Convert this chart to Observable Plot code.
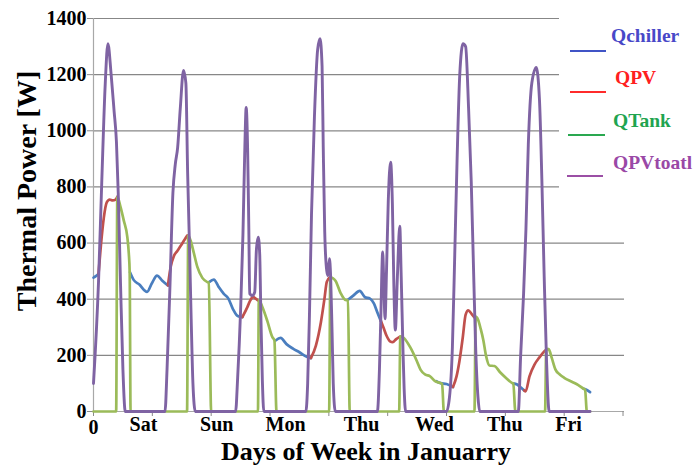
<!DOCTYPE html>
<html><head><meta charset="utf-8">
<script src="https://cdn.jsdelivr.net/npm/d3@7"></script>
<script src="https://cdn.jsdelivr.net/npm/@observablehq/plot@0.6"></script>
<style>
body{margin:0;background:#fff;}
#wrap{position:relative;width:695px;height:467px;overflow:hidden;}
#wrap svg text{font-weight:bold;}
#legend{position:absolute;left:559px;top:0;}
</style></head><body><div id="wrap"></div>
<script>
// ---- data (hour of week, thermal power W) ----
const seriesNames = ["Qchiller", "QPV", "QTank", "QPVtoatl"];
const lineColors = ["#4a7ebf", "#c0504d", "#9bbb59", "#7f63a3"];
const legendLineColors = ["#4054c6", "#ff2b2b", "#2aa850", "#9b4fa5"];
const legendTextColors = ["#4848c8", "#ff2020", "#1fa450", "#9a48a6"];

const yTicks = [0, 200, 400, 600, 800, 1000, 1200, 1400];
const xTicks = [0, 20, 40, 60, 80, 100, 120, 140, 160, 180];
const dayNames = ["Sat", "Sun", "Mon", "Thu", "Wed", "Thu", "Fri"];
const dayPos = [17.0, 41.9, 65.3, 91.1, 115.9, 139.8, 161.5];

const qChiller = [
  [[0,477],[0.8,482],[1.7,490]],
  [[12.4,496],[13.7,468],[15.5,453],[18.2,426],[19.9,458],[21.6,484],[23.3,467],[25.3,449]],
  [[39.3,461],[40.9,470],[42.6,443],[44.3,419],[45.8,403],[47.4,365],[49,340],[50.6,336]],
  [[61.9,253],[63.6,262],[65.6,240],[67.8,224],[70,211],[72.5,195],[73.9,190]],
  [[86.5,398],[88.3,413],[90.5,430],[92.3,407],[94,402],[95.3,385],[96.6,350],[97.7,322]],
  [[116.5,108],[118,101],[120,98],[122.2,87]],
  [[142.6,100],[144,96],[145.3,85],[146.4,75]],
  [[166.6,81],[167.2,79],[168.8,69]]
];
const qPV = [
  [[1.7,490],[2.5,590],[3.5,690],[4.5,745],[5.5,755],[6.5,752],[7.5,755],[8.1,765]],
  [[25.3,449],[26.3,518],[27.3,553],[28.5,572],[29.7,591],[31,613],[31.9,627]],
  [[50.6,336],[52.3,372],[53.3,396],[54.2,408],[55,403],[55.9,396]],
  [[73.9,190],[75.6,235],[77.3,318],[78.5,401],[79.3,462],[80.3,478]],
  [[97.7,322],[98.6,298],[99.7,268],[100.8,250],[101.7,247],[102.9,258],[104.2,267]],
  [[122.2,87],[123.4,125],[124.4,180],[125.5,262],[126.5,345],[127.4,360],[128.5,348],[129.5,335]],
  [[146.4,75],[146.9,72],[148.2,125],[149.9,167],[151.6,193],[153.3,215],[154,222]]
];
const qTank = [
  [0,0],[7.7,0],[8.1,765],[9.2,728],[10.3,680],[11.5,621],[12,563],[12.3,496],[12.6,0],
  [31.8,0],[32.2,627],[33,609],[34.1,565],[35.3,515],[37,476],[38.7,461],[39.2,459],[40,0],
  [55.9,0],[56.2,398],[57.4,372],[59.1,322],[60.8,265],[61.5,254],[62.2,0],
  [80.1,0],[80.5,478],[81.3,475],[82.3,465],[84,422],[85.5,398],[86.5,395],[87.1,0],
  [103.9,0],[104.3,268],[105.5,262],[107.6,230],[109.9,180],[111.2,148],[112.8,131],[114.3,126],[116.1,108],[118,101],[118.5,98],[119.1,0],
  [129.5,0],[129.9,338],[130.7,328],[131.6,295],[132.5,255],[133.4,200],[134.6,164],[136.3,162],[138.2,140],[140.5,117],[142.2,102],[142.7,100],[143.4,0],
  [153.5,0],[153.9,223],[154.7,222],[155.8,190],[157,150],[158.5,132],[160,120],[162.6,106],[164.8,94],[166.6,81],[167.1,78],[167.7,0],[168.8,0]
];
const qPVtotal = [
  [0,100],[1.7,460],[2.8,815],[4,1170],[4.9,1310],[6,1200],[7,1070],[7.8,960],[8.4,780],[9.2,450],[10,150],[10.8,0],
  [24.3,0],[25,150],[26,450],[27,780],[27.8,880],[28.6,940],[29.5,1080],[30.6,1215],[31.4,1170],[32,850],[32.6,600],[33.2,330],[33.8,100],[34.6,0],
  [48.3,0],[49,120],[50,360],[50.8,630],[51.4,920],[51.9,1083],[52.4,930],[52.8,650],[53.1,420],[54,413],[54.8,425],[55.4,580],[56,621],[56.5,560],[56.9,340],[57.4,110],[57.9,0],
  [72.2,0],[72.8,100],[73.4,340],[74.1,700],[75.1,1050],[76.2,1290],[77,1328],[77.7,1230],[78.1,940],[78.6,640],[79.3,500],[79.7,484],[80.2,544],[80.6,484],[81.1,280],[81.5,100],[82.2,0],
  [96.5,0],[97.2,150],[97.7,350],[98.3,568],[98.7,450],[99.1,330],[99.6,500],[100.2,750],[101,888],[101.6,740],[102.1,450],[102.6,290],[103.3,480],[104.1,660],[104.6,480],[105.2,220],[105.6,80],[106.1,0],
  [120,0],[121,50],[122,230],[122.8,560],[123.6,900],[124.5,1200],[125.6,1310],[126.5,1300],[127.5,1080],[128.4,820],[129.3,460],[129.9,230],[130.7,50],[131.3,0],
  [144.4,0],[145.2,200],[146.2,420],[147,650],[147.8,950],[149,1170],[150.5,1226],[151.6,1110],[152.4,830],[153.2,480],[154,180],[154.9,0],[168.8,0]
];

// ---- build tables ----
const toRows = (segments, name) => segments.flatMap((seg, i) => seg.map(([h, v]) => ({series: name, seg: name + i, h, v})));
const blueRows = toRows(qChiller, seriesNames[0]);
const redRows = toRows(qPV, seriesNames[1]);
const greenRows = toRows([qTank], seriesNames[2]);
const purpleRows = toRows([qPVtotal], seriesNames[3]);
const dayName = new Map(dayPos.map((p, i) => [p, dayNames[i]]));

const font = '"Liberation Serif","Times New Roman",serif';
const lineOpts = (i, w) => ({x: "h", y: "v", z: "seg", stroke: lineColors[i], strokeWidth: w, curve: "monotone-x", strokeLinejoin: "round"});

const chart = Plot.plot({
  width: 695, height: 467,
  marginLeft: 93, marginRight: 71, marginTop: 18, marginBottom: 56,
  x: {domain: [0, 180.5]},
  y: {domain: [0, 1400]},
  style: {fontFamily: font, background: "white", color: "black"},
  marks: [
    Plot.gridY(yTicks, {stroke: "#878787", strokeOpacity: 1, strokeWidth: 1.2}),
    Plot.ruleX([0], {stroke: "#a8a8a8", strokeWidth: 1.2}),
    Plot.ruleY([0], {stroke: "#a8a8a8", strokeWidth: 1.2}),
    Plot.axisY({ticks: yTicks, tickSize: 6, tickPadding: 1, tickFormat: d => String(d), fontSize: 20, fontWeight: "bold", stroke: "#8a8a8a", fill: "black", label: null}),
    Plot.axisX({ticks: xTicks, tickSize: 5, tickPadding: 3, tickFormat: d => d === 0 ? "0" : "", fontSize: 20, fontWeight: "bold", stroke: "#8a8a8a", fill: "black", label: null}),
    Plot.axisX({ticks: dayPos, tickSize: 0, tickPadding: 5, tickFormat: d => dayName.get(d), fontSize: 20, fontWeight: "bold", fill: "black", label: null}),
    Plot.line(blueRows, lineOpts(0, 2.7)),
    Plot.line(redRows, lineOpts(1, 2.7)),
    Plot.line(greenRows, lineOpts(2, 2.7)),
    Plot.line(purpleRows, lineOpts(3, 2.9)),
    Plot.text(["Days of Week in Januarry"], {text: d => d, frameAnchor: "bottom", dx: 7, dy: 48, fontSize: 26, fontWeight: "bold", fill: "black"}),
    Plot.text(["Thermal Power [W]"], {text: d => d, frameAnchor: "left", textAnchor: "middle", rotate: -90, dx: -66, dy: -24, fontSize: 28, fontWeight: "bold", fill: "black"})
  ]
});
const wrap = document.getElementById("wrap");
wrap.appendChild(chart);

// ---- legend (right, over a white box) ----
const ns = "http://www.w3.org/2000/svg";
const leg = document.createElementNS(ns, "svg");
leg.setAttribute("id", "legend");
leg.setAttribute("width", 136);
leg.setAttribute("height", 200);
const bg = document.createElementNS(ns, "rect");
bg.setAttribute("width", 136); bg.setAttribute("height", 200); bg.setAttribute("fill", "white");
leg.appendChild(bg);
const lineY = [51, 92, 135, 176];
const textY = [42, 84, 127, 169];
const textX = [52, 56, 54, 54];
const lineX = [[11, 47], [11, 47], [9, 46], [8, 44]];
seriesNames.forEach((name, i) => {
  const l = document.createElementNS(ns, "line");
  l.setAttribute("x1", lineX[i][0]); l.setAttribute("x2", lineX[i][1]);
  l.setAttribute("y1", lineY[i]); l.setAttribute("y2", lineY[i]);
  l.setAttribute("stroke", legendLineColors[i]); l.setAttribute("stroke-width", 2.2);
  leg.appendChild(l);
  const t = document.createElementNS(ns, "text");
  t.setAttribute("x", textX[i]); t.setAttribute("y", textY[i]);
  t.setAttribute("fill", legendTextColors[i]);
  t.setAttribute("font-family", font);
  t.setAttribute("font-weight", "bold");
  t.setAttribute("font-size", 19.5);
  t.textContent = name;
  leg.appendChild(t);
});
wrap.appendChild(leg);
</script></body></html>
